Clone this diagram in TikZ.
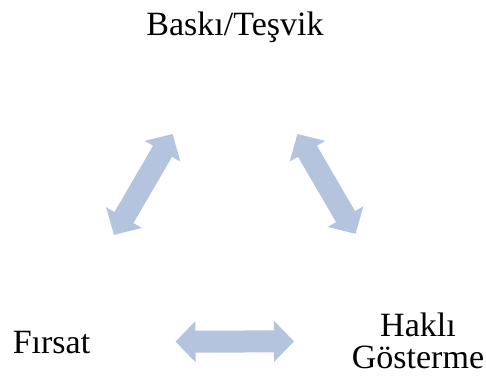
\documentclass[tikz,border=0pt]{standalone}
\usepackage{fontspec}
\setmainfont{Liberation Serif}
\usetikzlibrary{arrows.meta}
\definecolor{arrowblue}{HTML}{B4C4DE}
\tikzset{
  label text/.style={font=\fontsize{34}{32}\selectfont, align=center, inner sep=0pt},
  link/.style={line width=22pt, draw=arrowblue, shorten <=124pt, shorten >=124pt,
    {Triangle[length=20pt,width=40pt]}-{Triangle[length=20pt,width=40pt]}},
}
\begin{document}
\begin{tikzpicture}[x=1pt,y=-1pt]
  \useasboundingbox (0,0) rectangle (486,376);
  \node[label text, anchor=base] (bas) at (235,35) {Baskı/Teşvik};
  \node[label text, anchor=base] (fir) at (51.5,353) {Fırsat};
  \node[label text] (hak) at (418,341) {Haklı\\Gösterme};
  \draw[link] (fir.center) -- (bas.center);
  \draw[link] (hak.center) -- (bas.center);
  \draw[link] (fir.center) -- (hak.center);
\end{tikzpicture}
\end{document}
